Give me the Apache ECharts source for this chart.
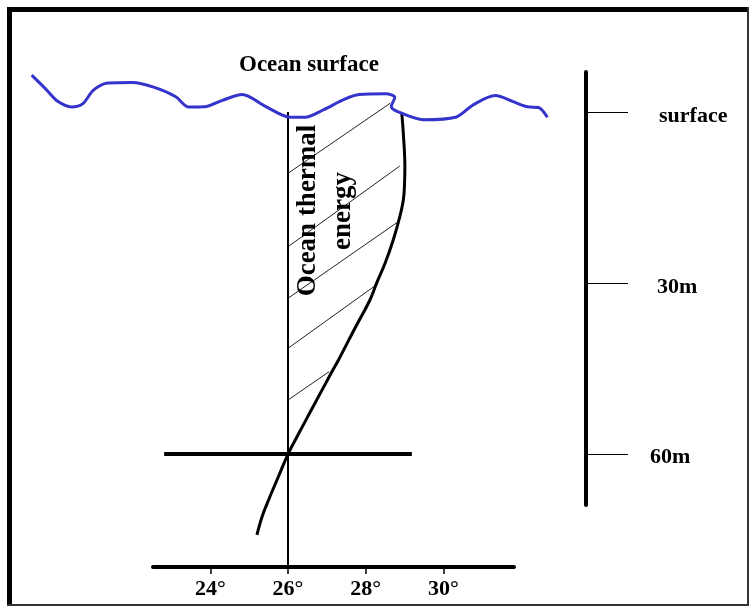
<!DOCTYPE html>
<html><head><meta charset="utf-8">
<script src="https://cdn.jsdelivr.net/npm/echarts@6/dist/echarts.min.js"></script>
<style>html,body{margin:0;padding:0;background:#fff;}#c{width:749px;height:606px;}</style>
</head><body><div id="c"></div>
<script>
// Temperature axis (°C) and depth scale (m)
const tempTicks = [24, 26, 28, 30];
const depthTicks = [0, 30, 60];
const depthLabels = ['surface', '30m', '60m'];

// Ocean surface wave, traced as temperature-axis position / depth (negative = above surface)
const waveTemps  = [19.40, 19.79, 20.06, 20.43, 20.71, 20.99, 21.36, 22.00, 22.56, 23.11, 23.44, 23.85, 24.31, 24.82, 25.42, 26.07, 26.44, 26.90, 27.46, 27.83, 28.52, 28.75, 28.66, 28.84, 29.49, 30.32, 30.78, 31.34, 31.80, 32.17, 32.45, 32.68];
const waveDepths = [-6.56, -3.92, -2.02, -0.97, -1.51, -3.92, -5.18, -5.29, -4.41, -2.78, -0.97, -1.00, -2.14, -3.15, -1.07, 0.83, 0.83, -0.44, -2.34, -3.15, -3.29, -2.65, -1.07, -0.12, 1.27, 0.83, -1.39, -2.97, -1.90, -1.00, -0.88, 0.83];

// Temperature profile with depth
const profileTemps  = [28.93, 28.97, 29.01, 29.00, 28.97, 28.88, 28.71, 28.50, 28.28, 28.11, 27.70, 27.30, 27.11, 26.60, 26.28, 26.01, 25.76, 25.50, 25.33, 25.20];
const profileDepths = [0.14, 3.66, 9.53, 12.74, 15.38, 18.31, 22.41, 26.50, 30.02, 32.95, 38.22, 43.50, 45.83, 52.28, 56.38, 59.89, 63.88, 68.10, 71.09, 74.25];

// Reference temperature line and 60 m level line
const referenceTemp = 26;
const referenceDepths = [-0.1, 79.88];
const levelDepth = 60;
const levelTemps = [22.81, 29.19];

// Hatching of the thermal-energy area
const hatchStartDepths = [10.69, 23.59, 32.65, 41.44, 50.53];
const hatchEndTemps    = [28.63, 28.88, 28.84, 28.27, 27.06];
const hatchEndDepths   = [-1.62, 9.40, 19.19, 30.32, 45.55];

const serif = '"Liberation Serif", "Times New Roman", serif';
const zip = (a, b) => a.map((v, i) => [v, b[i]]);

const base = { type: 'line', xAxisIndex: 0, yAxisIndex: 0, symbol: 'none', clip: false, silent: true, animation: false };

const series = [];
hatchStartDepths.forEach((d, i) => {
  series.push(Object.assign({}, base, {
    data: [[referenceTemp, d], [hatchEndTemps[i], hatchEndDepths[i]]],
    lineStyle: { color: '#222', width: 1 }, z: 2
  }));
});
series.push(Object.assign({}, base, {
  data: referenceDepths.map(d => [referenceTemp, d]),
  lineStyle: { color: '#000', width: 2 }, z: 3
}));
series.push(Object.assign({}, base, {
  data: levelTemps.map(t => [t, levelDepth]),
  lineStyle: { color: '#000', width: 4 }, z: 3
}));
series.push(Object.assign({}, base, {
  data: zip(profileTemps, profileDepths), smooth: 0.4,
  lineStyle: { color: '#000', width: 3 }, z: 4
}));
series.push(Object.assign({}, base, {
  data: zip(waveTemps, waveDepths), smooth: 0.3,
  lineStyle: { color: '#3434cc', width: 3 }, z: 5
}));

const labelFont = { fontFamily: serif, fontWeight: 'bold', fontSize: 22, color: '#000' };

const chart = echarts.init(document.getElementById('c'), null, { renderer: 'canvas' });
chart.setOption({
  animation: false,
  backgroundColor: '#fff',
  title: {
    text: 'Ocean surface', left: 239, top: 54, padding: 0,
    textStyle: { fontFamily: serif, fontWeight: 'bold', fontSize: 23, color: '#000' }
  },
  grid: [
    // drawing area (same temperature/depth scale as the axes)
    { left: 25, right: 189, top: 60, bottom: 39, containLabel: false, outerBoundsMode: 'none' },
    // temperature axis
    { left: 153, right: 235, top: 500, bottom: 39, containLabel: false, outerBoundsMode: 'none' },
    // depth scale
    { left: 560, right: 163, top: 72, bottom: 101, containLabel: false, outerBoundsMode: 'none' }
  ],
  xAxis: [
    { gridIndex: 0, type: 'value', min: 19.227, max: 33.005, show: false },
    {
      gridIndex: 1, type: 'value', min: 22.523, max: 31.820,
      axisLine: { show: true, onZero: false, lineStyle: { color: '#000', width: 4 } },
      axisTick: { show: true, customValues: tempTicks, length: 7, lineStyle: { color: '#000', width: 1.5 } },
      axisLabel: Object.assign({ customValues: tempTicks, margin: 11, formatter: v => v + '°' }, labelFont),
      splitLine: { show: false }
    },
    { gridIndex: 2, type: 'value', min: 0, max: 1, show: false }
  ],
  yAxis: [
    { gridIndex: 0, type: 'value', inverse: true, min: -9.227, max: 79.877, show: false },
    { gridIndex: 1, type: 'value', min: 0, max: 1, show: false },
    {
      gridIndex: 2, type: 'value', inverse: true, min: -7.118, max: 68.98, position: 'right',
      axisLine: { show: true, onZero: false, lineStyle: { color: '#000', width: 4 } },
      axisTick: { show: true, customValues: depthTicks, length: 42, lineStyle: { color: '#000', width: 1 } },
      axisLabel: {
        customValues: depthTicks, margin: 64,
        formatter: v => { const i = depthTicks.indexOf(v); return '{l' + i + '|' + depthLabels[i] + '}'; },
        rich: {
          l0: Object.assign({ padding: [8, 0, 0, 9] }, labelFont),
          l1: Object.assign({ padding: [8, 0, 0, 7] }, labelFont),
          l2: Object.assign({ padding: [6, 0, 0, 0] }, labelFont)
        }
      },
      splitLine: { show: false }
    }
  ],
  graphic: [
    { type: 'rect', shape: { x: 7, y: 7, width: 742, height: 5 }, style: { fill: '#000' }, silent: true },
    { type: 'rect', shape: { x: 7, y: 7, width: 5, height: 599 }, style: { fill: '#000' }, silent: true },
    { type: 'rect', shape: { x: 747, y: 7, width: 2, height: 599 }, style: { fill: '#333' }, silent: true },
    { type: 'rect', shape: { x: 7, y: 604, width: 742, height: 2 }, style: { fill: '#333' }, silent: true },
    { type: 'text', x: 308, y: 210.5, rotation: Math.PI / 2, z: 10,
      style: { text: 'Ocean thermal', font: 'bold 27px ' + serif, fill: '#000',
               textAlign: 'center', textVerticalAlign: 'middle', align: 'center', verticalAlign: 'middle' } },
    { type: 'text', x: 343, y: 211, rotation: Math.PI / 2, z: 10,
      style: { text: 'energy', font: 'bold 27px ' + serif, fill: '#000',
               textAlign: 'center', textVerticalAlign: 'middle', align: 'center', verticalAlign: 'middle' } }
  ],
  series: series
});
</script>
</body></html>
